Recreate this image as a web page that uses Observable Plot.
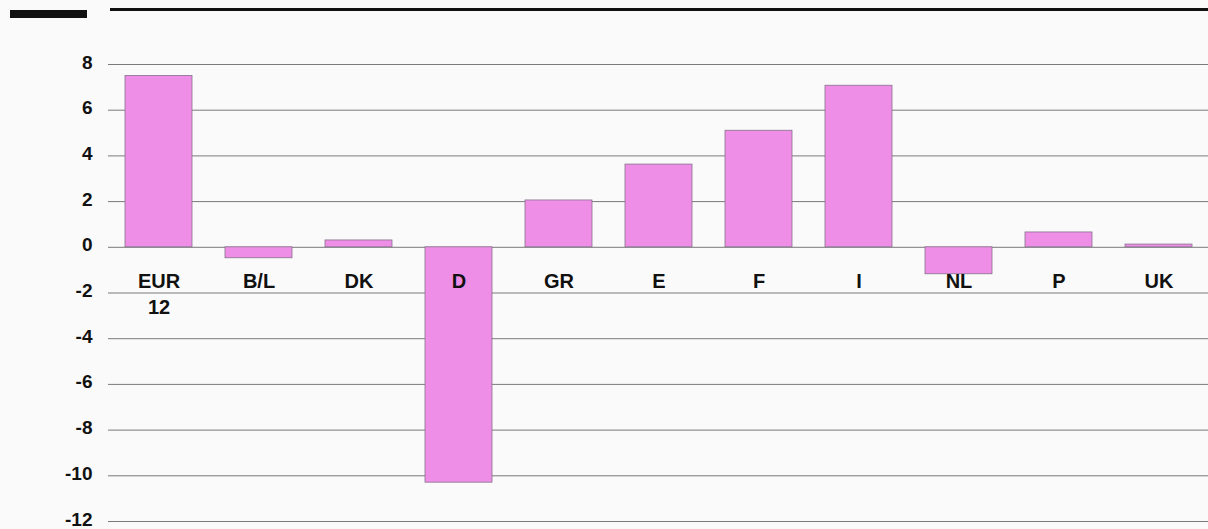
<!DOCTYPE html>
<html>
<head>
<meta charset="utf-8">
<script src="https://cdn.jsdelivr.net/npm/d3@7"></script>
<script src="https://cdn.jsdelivr.net/npm/@observablehq/plot@0.6"></script>
<style>
  html, body { margin: 0; padding: 0; background: #fafafa; }
  #wrap { position: relative; width: 1208px; height: 529px; overflow: hidden; }
  .deco1 { position: absolute; left: 10px; top: 10px; width: 77px; height: 8px; background: #111; }
  .deco2 { position: absolute; left: 110px; top: 8px; width: 1098px; height: 2.5px; background: #111; }
</style>
</head>
<body>
<div id="wrap">
  <div class="deco1"></div>
  <div class="deco2"></div>
</div>
<script>
const categories = ["EUR\n12", "B/L", "DK", "D", "GR", "E", "F", "I", "NL", "P", "UK"];
const values = [7.5, -0.48, 0.3, -10.3, 2.05, 3.62, 5.1, 7.07, -1.18, 0.65, 0.12];
const yTicks = [-12, -10, -8, -6, -4, -2, 0, 2, 4, 6, 8];
const labelY = -0.97;

const data = categories.map((c, i) => ({category: c, value: values[i]}));

const chart = Plot.plot({
  width: 1208,
  height: 529,
  marginLeft: 108,
  marginRight: 0,
  marginTop: 64,
  marginBottom: 8,
  style: {background: "transparent", fontFamily: "Liberation Sans, Arial, sans-serif"},
  x: {domain: categories, paddingInner: 0.33, paddingOuter: 0.165, axis: null},
  y: {domain: [-12, 8], axis: null},
  marks: [
    Plot.ruleY(yTicks, {stroke: "#7a7a7a", strokeWidth: 1}),
    Plot.barY(data, {x: "category", y: "value", fill: "#ef8ee6", stroke: "#86708c", strokeWidth: 0.8}),
    Plot.text(yTicks, {y: d => d, text: d => String(d), frameAnchor: "left", dx: -16, dy: -2,
      textAnchor: "end", fontSize: 19, fontWeight: "bold", fill: "#111"}),
    Plot.text(categories, {x: d => d, y: () => labelY, text: d => d, fontSize: 20, fontWeight: "bold",
      fill: "#111", lineHeight: 1.3, lineAnchor: "top"})
  ]
});
document.getElementById("wrap").appendChild(chart);
chart.style.position = "absolute";
chart.style.left = "0";
chart.style.top = "0";
</script>
</body>
</html>
